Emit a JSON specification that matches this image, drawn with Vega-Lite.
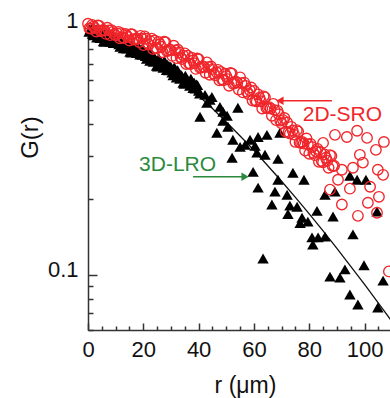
{
  "$schema": "https://vega.github.io/schema/vega-lite/v6.json",
  "width": 302,
  "height": 305,
  "autosize": {"type": "none"},
  "padding": {"left": 88, "top": 25, "right": 0, "bottom": 68},
  "background": "white",
  "config": {"view": {"stroke": null}, "font": "Liberation Sans"},
  "datasets": {
    "sro": [
      {"r":0,"G":1.012},{"r":1,"G":0.967},{"r":2,"G":0.986},{"r":3,"G":0.942},{"r":4,"G":0.993},{"r":5,"G":0.948},{"r":6,"G":0.951},{"r":7,"G":0.975},{"r":8,"G":0.911},{"r":9,"G":0.939},
      {"r":10,"G":0.909},{"r":11,"G":0.938},{"r":12,"G":0.928},{"r":13,"G":0.887},{"r":14,"G":0.907},{"r":15,"G":0.867},{"r":16,"G":0.916},{"r":17,"G":0.876},{"r":18,"G":0.881},{"r":19,"G":0.904},
      {"r":20,"G":0.831},{"r":21,"G":0.881},{"r":22,"G":0.835},{"r":23,"G":0.882},{"r":24,"G":0.867},{"r":25,"G":0.806},{"r":26,"G":0.837},{"r":27,"G":0.778},{"r":28,"G":0.853},{"r":29,"G":0.789},
      {"r":30,"G":0.793},{"r":31,"G":0.826},{"r":32,"G":0.737},{"r":33,"G":0.776},{"r":34,"G":0.731},{"r":35,"G":0.770},{"r":36,"G":0.754},{"r":37,"G":0.698},{"r":38,"G":0.721},{"r":39,"G":0.667},
      {"r":40,"G":0.729},{"r":41,"G":0.675},{"r":42,"G":0.679},{"r":43,"G":0.708},{"r":44,"G":0.632},{"r":45,"G":0.666},{"r":46,"G":0.628},{"r":47,"G":0.661},{"r":48,"G":0.649},{"r":49,"G":0.601},
      {"r":50,"G":0.624},{"r":51,"G":0.571},{"r":52,"G":0.639},{"r":53,"G":0.585},{"r":54,"G":0.588},{"r":55,"G":0.617},{"r":56,"G":0.537},{"r":57,"G":0.570},{"r":58,"G":0.529},{"r":59,"G":0.562},
      {"r":60,"G":0.545},{"r":61,"G":0.494},{"r":62,"G":0.511},{"r":63,"G":0.463},{"r":64,"G":0.513},{"r":65,"G":0.465},{"r":66,"G":0.463},{"r":67,"G":0.483},{"r":68,"G":0.416},{"r":69,"G":0.439},
      {"r":70,"G":0.404},{"r":71,"G":0.424},{"r":72,"G":0.407},{"r":73,"G":0.367},{"r":74,"G":0.378},{"r":75,"G":0.340},{"r":76,"G":0.374},{"r":77,"G":0.337},{"r":78,"G":0.335},{"r":79,"G":0.351},
      {"r":80,"G":0.305},{"r":81,"G":0.324},{"r":82,"G":0.301},{"r":83,"G":0.319},{"r":84,"G":0.310},{"r":85,"G":0.282},{"r":86,"G":0.294},{"r":87,"G":0.268},{"r":88,"G":0.299},{"r":89,"G":0.273},
      {"r":0.5,"G":0.970},{"r":1.5,"G":1.001},{"r":2.5,"G":0.972},{"r":3.5,"G":0.997},{"r":4.5,"G":0.946},{"r":5.5,"G":0.955},{"r":6.5,"G":0.921},{"r":7.5,"G":0.951},{"r":8.5,"G":0.954},{"r":9.5,"G":0.917},
      {"r":10.5,"G":0.926},{"r":11.5,"G":0.885},{"r":12.5,"G":0.890},{"r":13.5,"G":0.920},{"r":14.5,"G":0.894},{"r":15.5,"G":0.919},{"r":16.5,"G":0.874},{"r":17.5,"G":0.883},{"r":18.5,"G":0.854},{"r":19.5,"G":0.882},
      {"r":20.5,"G":0.900},{"r":21.5,"G":0.846},{"r":22.5,"G":0.862},{"r":23.5,"G":0.801},{"r":24.5,"G":0.809},{"r":25.5,"G":0.856},{"r":26.5,"G":0.818},{"r":27.5,"G":0.857},{"r":28.5,"G":0.787},{"r":29.5,"G":0.798},
      {"r":30.5,"G":0.752},{"r":31.5,"G":0.791},{"r":32.5,"G":0.796},{"r":33.5,"G":0.743},{"r":34.5,"G":0.754},{"r":35.5,"G":0.698},{"r":36.5,"G":0.702},{"r":37.5,"G":0.739},{"r":38.5,"G":0.703},{"r":39.5,"G":0.734},
      {"r":40.5,"G":0.673},{"r":41.5,"G":0.683},{"r":42.5,"G":0.644},{"r":43.5,"G":0.678},{"r":44.5,"G":0.682},{"r":45.5,"G":0.638},{"r":46.5,"G":0.647},{"r":47.5,"G":0.600},{"r":48.5,"G":0.605},{"r":49.5,"G":0.638},
      {"r":50.5,"G":0.607},{"r":51.5,"G":0.642},{"r":52.5,"G":0.581},{"r":53.5,"G":0.593},{"r":54.5,"G":0.551},{"r":55.5,"G":0.585},{"r":56.5,"G":0.588},{"r":57.5,"G":0.540},{"r":58.5,"G":0.548},{"r":59.5,"G":0.498},
      {"r":60.5,"G":0.499},{"r":61.5,"G":0.527},{"r":62.5,"G":0.495},{"r":63.5,"G":0.518},{"r":64.5,"G":0.465},{"r":65.5,"G":0.469},{"r":66.5,"G":0.433},{"r":67.5,"G":0.456},{"r":68.5,"G":0.454},{"r":69.5,"G":0.414},
      {"r":70.5,"G":0.416},{"r":71.5,"G":0.374},{"r":72.5,"G":0.372},{"r":73.5,"G":0.391},{"r":74.5,"G":0.364},{"r":75.5,"G":0.379},{"r":76.5,"G":0.338},{"r":77.5,"G":0.340},{"r":78.5,"G":0.314},{"r":79.5,"G":0.333},
      {"r":80.5,"G":0.334},{"r":81.5,"G":0.307},{"r":82.5,"G":0.311},{"r":83.5,"G":0.283},{"r":84.5,"G":0.285},{"r":85.5,"G":0.303},{"r":86.5,"G":0.286},{"r":87.5,"G":0.301},{"r":88.5,"G":0.272},
      {"r":89.3,"G":0.363},{"r":93.6,"G":0.356},{"r":97.3,"G":0.377},{"r":100.9,"G":0.353},{"r":104.1,"G":0.316},{"r":107.0,"G":0.340},{"r":85.0,"G":0.337},{"r":98.3,"G":0.302},{"r":99.4,"G":0.281},{"r":95.8,"G":0.268},
      {"r":104.8,"G":0.263},{"r":91.8,"G":0.263},{"r":90.4,"G":0.240},{"r":106.7,"G":0.251},{"r":87.5,"G":0.219},{"r":94.7,"G":0.221},{"r":102.0,"G":0.225},{"r":105.2,"G":0.205},{"r":101.2,"G":0.194},{"r":91.8,"G":0.191},
      {"r":97.6,"G":0.172},{"r":104.5,"G":0.177},{"r":108.8,"G":0.103}
    ],
    "lro": [
      {"r":0.4,"G":0.94},{"r":1.2,"G":0.955},{"r":2.0,"G":0.909},{"r":2.8,"G":0.932},{"r":3.6,"G":0.935},{"r":4.4,"G":0.886},{"r":5.2,"G":0.912},{"r":6.0,"G":0.857},{"r":6.8,"G":0.906},{"r":7.6,"G":0.875},
      {"r":8.4,"G":0.917},{"r":9.2,"G":0.846},{"r":10.0,"G":0.846},{"r":10.8,"G":0.879},{"r":11.6,"G":0.817},{"r":12.4,"G":0.841},{"r":13.2,"G":0.865},{"r":14.0,"G":0.805},{"r":14.8,"G":0.828},{"r":15.6,"G":0.776},
      {"r":16.4,"G":0.820},{"r":17.2,"G":0.790},{"r":18.0,"G":0.826},{"r":18.8,"G":0.761},{"r":19.6,"G":0.760},{"r":20.4,"G":0.789},{"r":21.2,"G":0.732},{"r":22.0,"G":0.750},{"r":22.8,"G":0.769},{"r":23.6,"G":0.712},
      {"r":24.4,"G":0.730},{"r":25.2,"G":0.682},{"r":26.0,"G":0.718},{"r":26.8,"G":0.690},{"r":27.6,"G":0.720},{"r":28.4,"G":0.660},{"r":29.2,"G":0.658},{"r":30.0,"G":0.679},{"r":30.8,"G":0.629},{"r":31.6,"G":0.643},
      {"r":32.4,"G":0.659},{"r":33.2,"G":0.609},{"r":34.0,"G":0.623},{"r":34.8,"G":0.581},{"r":35.6,"G":0.611},{"r":36.4,"G":0.586},{"r":37.2,"G":0.610},{"r":38.0,"G":0.559},{"r":38.8,"G":0.556},{"r":39.6,"G":0.574},
      {"r":40.4,"G":0.531},
      {"r":0.8,"G":0.960},{"r":1.6,"G":0.921},{"r":2.4,"G":0.962},{"r":3.2,"G":0.890},{"r":4.0,"G":0.915},{"r":4.8,"G":0.925},{"r":5.6,"G":0.860},{"r":6.4,"G":0.927},{"r":7.2,"G":0.878},{"r":8.0,"G":0.856},
      {"r":8.8,"G":0.881},{"r":9.6,"G":0.890},{"r":10.4,"G":0.882},{"r":11.2,"G":0.836},{"r":12.0,"G":0.884},{"r":12.8,"G":0.807},{"r":13.6,"G":0.830},{"r":14.4,"G":0.839},{"r":15.2,"G":0.780},{"r":16.0,"G":0.839},
      {"r":16.8,"G":0.794},{"r":17.6,"G":0.772},{"r":18.4,"G":0.793},{"r":19.2,"G":0.800},{"r":20.0,"G":0.792},{"r":20.8,"G":0.750},{"r":21.6,"G":0.791},{"r":22.4,"G":0.718},{"r":23.2,"G":0.736},{"r":24.0,"G":0.741},
      {"r":24.8,"G":0.686},{"r":25.6,"G":0.736},{"r":26.4,"G":0.694},{"r":27.2,"G":0.673},{"r":28.0,"G":0.689},{"r":28.8,"G":0.693},{"r":29.6,"G":0.684},{"r":30.4,"G":0.645},{"r":31.2,"G":0.678},{"r":32.0,"G":0.616},
      {"r":32.8,"G":0.630},{"r":33.6,"G":0.633},{"r":34.4,"G":0.586},{"r":35.2,"G":0.627},{"r":36.0,"G":0.590},{"r":36.8,"G":0.571},{"r":37.6,"G":0.584},{"r":38.4,"G":0.587},{"r":39.2,"G":0.578},{"r":40.0,"G":0.545},
      {"r":42.3,"G":0.525},{"r":44.1,"G":0.501},{"r":44.8,"G":0.515},{"r":43.0,"G":0.488},{"r":40.5,"G":0.429},{"r":47.7,"G":0.470},{"r":48.8,"G":0.449},{"r":54.2,"G":0.466},{"r":50.3,"G":0.433},{"r":48.8,"G":0.413},
      {"r":50.6,"G":0.391},{"r":46.6,"G":0.370},{"r":52.4,"G":0.347},{"r":55.0,"G":0.325},{"r":56.8,"G":0.331},{"r":58.6,"G":0.347},{"r":60.4,"G":0.328},{"r":61.1,"G":0.308},{"r":52.1,"G":0.294},{"r":61.5,"G":0.356},
      {"r":64.7,"G":0.363},{"r":69.4,"G":0.370},{"r":64.0,"G":0.302},{"r":68.7,"G":0.291},{"r":59.7,"G":0.258},{"r":61.5,"G":0.223},{"r":68.7,"G":0.240},{"r":74.1,"G":0.256},{"r":78.1,"G":0.240},{"r":67.6,"G":0.215},
      {"r":72.0,"G":0.209},{"r":66.5,"G":0.191},{"r":73.0,"G":0.189},{"r":75.6,"G":0.187},{"r":72.3,"G":0.175},{"r":77.4,"G":0.169},{"r":76.7,"G":0.161},{"r":79.5,"G":0.163},{"r":82.8,"G":0.180},{"r":88.6,"G":0.171},
      {"r":85.7,"G":0.209},{"r":89.3,"G":0.215},{"r":94.7,"G":0.249},{"r":97.3,"G":0.240},{"r":100.5,"G":0.240},{"r":104.5,"G":0.179},{"r":81.0,"G":0.141},{"r":83.2,"G":0.141},{"r":85.7,"G":0.142},{"r":81.3,"G":0.132},
      {"r":95.8,"G":0.145},{"r":63.3,"G":0.116},{"r":87.5,"G":0.0982},{"r":91.1,"G":0.0973},{"r":92.9,"G":0.105},{"r":99.8,"G":0.109},{"r":106.7,"G":0.0946},{"r":94.7,"G":0.0832},{"r":97.6,"G":0.0759},{"r":104.8,"G":0.0738}
    ],
    "fit": [
      {"r":0,"G":1},{"r":5,"G":0.966},{"r":10,"G":0.913},{"r":15,"G":0.850},{"r":20,"G":0.784},{"r":25,"G":0.715},{"r":30,"G":0.648},{"r":35,"G":0.583},{"r":40,"G":0.521},{"r":45,"G":0.463},
      {"r":50,"G":0.409},{"r":55,"G":0.359},{"r":60,"G":0.315},{"r":65,"G":0.273},{"r":70,"G":0.2366},{"r":75,"G":0.2038},{"r":80,"G":0.175},{"r":85,"G":0.1496},{"r":90,"G":0.1273},{"r":95,"G":0.108},
      {"r":100,"G":0.0914},{"r":105,"G":0.0769},{"r":110,"G":0.0646}
    ],
    "notes": [
      {"label":"2D-SRO","r":92.0,"G":0.4347},
      {"label":"3D-LRO","r":32.4,"G":0.274}
    ],
    "arrows": [
      {"label":"2D-SRO","r":69.4,"r2":88.2,"G":0.497},
      {"label":"3D-LRO","r":38.0,"r2":56.8,"G":0.2466}
    ]
  },
  "encoding": {
    "x": {
      "field": "r", "type": "quantitative",
      "scale": {"type": "linear", "domain": [0, 109.2], "nice": false, "zero": false},
      "axis": {
        "title": "r (μm)",
        "values": [0,5,10,15,20,25,30,35,40,45,50,55,60,65,70,75,80,85,90,95,100,105],
        "labelExpr": "datum.value % 20 === 0 ? datum.label : ''",
        "tickSize": {"condition": {"test": "datum.value % 20 === 0", "value": -7}, "value": -4},
        "grid": false,
        "domainColor": "#333", "domainWidth": 1.5, "tickColor": "#333", "tickWidth": 1.5,
        "labelFont": "Liberation Sans", "labelFontSize": 22, "labelColor": "#111",
        "labelBaseline": "alphabetic", "labelPadding": 33, "labelFlush": false, "labelOverlap": false,
        "titleFont": "Liberation Sans", "titleFontSize": 23, "titleFontWeight": "normal", "titleColor": "#111",
        "titleX": 157, "titleY": 62, "titleBaseline": "alphabetic", "titleAlign": "center"
      }
    },
    "y": {
      "field": "G", "type": "quantitative",
      "scale": {"type": "log", "domain": [0.06, 1], "nice": false},
      "axis": {
        "title": "G(r)",
        "values": [0.06,0.07,0.08,0.09,0.1,0.2,0.3,0.4,0.5,0.6,0.7,0.8,0.9,1],
        "labelExpr": "datum.value === 0.1 ? '0.1' : (datum.value === 1 ? '1' : '')",
        "tickSize": {"condition": {"test": "datum.value === 0.1 || datum.value === 1", "value": -9}, "value": -5},
        "grid": false,
        "domainColor": "#333", "domainWidth": 1.5, "tickColor": "#333", "tickWidth": 1.5,
        "labelFont": "Liberation Sans", "labelFontSize": 22, "labelColor": "#111",
        "labelBaseline": "alphabetic", "labelOffset": 2, "labelPadding": 19, "labelFlush": false, "labelOverlap": false,
        "titleFont": "Liberation Sans", "titleFontSize": 24, "titleFontWeight": "normal", "titleColor": "#111",
        "titleAngle": -90, "titleX": -51, "titleY": 112, "titleBaseline": "alphabetic", "titleAlign": "center"
      }
    }
  },
  "layer": [
    {
      "mark": {"type": "rule", "color": "#777", "strokeWidth": 2},
      "encoding": {"x": {"datum": 0}, "x2": {"datum": 109.2}, "y": {"datum": 1}}
    },
    {
      "data": {"name": "fit"},
      "mark": {"type": "line", "color": "#111", "strokeWidth": 1.3, "clip": true}
    },
    {
      "data": {"name": "lro"},
      "mark": {"type": "point", "shape": "triangle-up", "filled": true, "color": "#000", "opacity": 1, "size": 130}
    },
    {
      "data": {"name": "sro"},
      "mark": {"type": "point", "shape": "circle", "filled": false, "color": "#f0262b", "opacity": 1, "size": 110, "strokeWidth": 1.35}
    },
    {
      "data": {"name": "arrows"},
      "mark": {"type": "rule", "strokeWidth": 1.5},
      "encoding": {
        "x2": {"field": "r2"},
        "color": {"field": "label", "type": "nominal", "scale": {"domain": ["2D-SRO", "3D-LRO"], "range": ["#f0262b", "#2b8a3e"]}, "legend": null}
      }
    },
    {
      "data": {"name": "arrows"},
      "transform": [{"calculate": "datum.label === '2D-SRO' ? datum.r : datum.r2", "as": "tip"}],
      "mark": {"type": "point", "filled": true, "opacity": 1, "size": 70},
      "encoding": {
        "x": {"field": "tip", "type": "quantitative"},
        "shape": {"field": "label", "type": "nominal", "scale": {"domain": ["2D-SRO", "3D-LRO"], "range": ["triangle-left", "triangle-right"]}, "legend": null},
        "color": {"field": "label", "type": "nominal", "scale": {"domain": ["2D-SRO", "3D-LRO"], "range": ["#f0262b", "#2b8a3e"]}, "legend": null}
      }
    },
    {
      "data": {"name": "notes"},
      "mark": {"type": "text", "font": "Liberation Sans", "fontSize": 21, "align": "center", "baseline": "middle"},
      "encoding": {
        "text": {"field": "label"},
        "color": {"field": "label", "type": "nominal", "scale": {"domain": ["2D-SRO", "3D-LRO"], "range": ["#f0262b", "#2b8a3e"]}, "legend": null}
      }
    }
  ]
}
